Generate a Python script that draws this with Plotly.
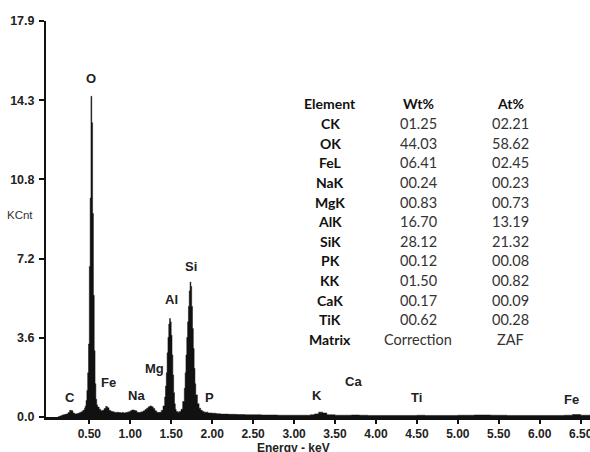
import plotly.graph_objects as go

# Spectrum (energy in keV, counts in KCnt)
energy = [0.12, 0.14, 0.16, 0.18, 0.20, 0.22, 0.24, 0.26, 0.28, 0.30, 0.32, 0.34, 0.36, 0.38, 0.40,
          0.42, 0.44, 0.45, 0.46, 0.47, 0.48, 0.49, 0.50, 0.51, 0.52, 0.53, 0.54, 0.55, 0.56, 0.57,
          0.58, 0.59, 0.60, 0.62, 0.64, 0.66, 0.68, 0.70, 0.72, 0.74, 0.76, 0.78, 0.80, 0.82, 0.84,
          0.86, 0.88, 0.90, 0.92, 0.94, 0.96, 0.98, 1.00, 1.02, 1.04, 1.06, 1.08, 1.10, 1.12, 1.14,
          1.16, 1.18, 1.20, 1.22, 1.24, 1.26, 1.28, 1.30, 1.32, 1.34, 1.36, 1.38, 1.40, 1.42, 1.43,
          1.44, 1.45, 1.46, 1.47, 1.48, 1.49, 1.50, 1.51, 1.52, 1.53, 1.54, 1.55, 1.56, 1.58, 1.60,
          1.62, 1.64, 1.66, 1.67, 1.68, 1.69, 1.70, 1.71, 1.72, 1.73, 1.74, 1.75, 1.76, 1.77, 1.78,
          1.79, 1.80, 1.82, 1.84, 1.86, 1.88, 1.90, 1.95, 2.00, 2.05, 2.10, 2.20, 2.30, 2.40, 2.50,
          2.60, 2.70, 2.80, 2.90, 3.00, 3.10, 3.20, 3.25, 3.30, 3.35, 3.40, 3.50, 3.60, 3.70, 3.80,
          3.90, 4.00, 4.20, 4.40, 4.50, 4.60, 4.80, 5.00, 5.20, 5.40, 5.60, 5.80, 6.00, 6.20, 6.30,
          6.40, 6.50, 6.62]
counts = [0.02, 0.05, 0.08, 0.10, 0.12, 0.14, 0.20, 0.30, 0.28, 0.18, 0.14, 0.15, 0.17, 0.20, 0.24,
          0.30, 0.40, 0.50, 0.75, 1.20, 2.00, 3.30, 6.80, 9.90, 14.50, 13.30, 9.20, 5.50, 3.00, 1.50,
          0.80, 0.55, 0.45, 0.35, 0.28, 0.30, 0.38, 0.48, 0.42, 0.30, 0.26, 0.24, 0.22, 0.20, 0.22,
          0.20, 0.19, 0.20, 0.18, 0.20, 0.22, 0.24, 0.28, 0.32, 0.30, 0.28, 0.22, 0.20, 0.22, 0.24,
          0.28, 0.34, 0.40, 0.46, 0.50, 0.46, 0.38, 0.28, 0.22, 0.20, 0.22, 0.30, 0.50, 0.90, 1.40,
          2.00, 2.90, 3.60, 4.20, 4.45, 4.30, 3.70, 2.80, 1.90, 1.10, 0.60, 0.35, 0.25, 0.22, 0.25,
          0.35, 0.70, 1.30, 2.00, 2.80, 3.60, 4.30, 5.00, 5.70, 6.10, 5.90, 5.00, 4.00, 3.10, 2.20,
          1.50, 1.00, 0.60, 0.40, 0.30, 0.25, 0.22, 0.18, 0.17, 0.15, 0.13, 0.12, 0.11, 0.10, 0.10,
          0.09, 0.09, 0.08, 0.08, 0.08, 0.08, 0.10, 0.14, 0.22, 0.18, 0.10, 0.08, 0.08, 0.09, 0.08,
          0.07, 0.07, 0.07, 0.07, 0.08, 0.07, 0.07, 0.08, 0.09, 0.08, 0.07, 0.07, 0.07, 0.07, 0.08,
          0.11, 0.08, 0.05]

# Peak labels
peak_labels = ["O", "Si", "Al", "Mg", "Fe", "Na", "C", "P", "K", "Ca", "Ti", "Fe"]
peak_x = [0.52, 1.74, 1.50, 1.30, 0.73, 1.07, 0.26, 1.97, 3.28, 3.72, 4.50, 6.39]
peak_y = [15.3, 6.8, 5.3, 2.2, 1.54, 0.95, 0.86, 0.9, 0.95, 1.6, 0.86, 0.77]

# Axis ticks
x_ticks = [0.5, 1.0, 1.5, 2.0, 2.5, 3.0, 3.5, 4.0, 4.5, 5.0, 5.5, 6.0, 6.5]
x_tick_text = ["0.50", "1.00", "1.50", "2.00", "2.50", "3.00", "3.50", "4.00", "4.50",
               "5.00", "5.50", "6.00", "6.50"]
y_ticks = [0.0, 3.58, 7.16, 10.74, 14.32, 17.9]
y_tick_text = ["0.0", "3.6", "7.2", "10.8", "14.3", "17.9"]

# Composition table
elements = ["CK", "OK", "FeL", "NaK", "MgK", "AlK", "SiK", "PK", "KK", "CaK", "TiK", "Matrix"]
wt_pct = ["01.25", "44.03", "06.41", "00.24", "00.83", "16.70", "28.12", "00.12", "01.50",
          "00.17", "00.62", "Correction"]
at_pct = ["02.21", "58.62", "02.45", "00.23", "00.73", "13.19", "21.32", "00.08", "00.82",
          "00.09", "00.28", "ZAF"]
headers = ["Element", "Wt%", "At%"]

W, H = 590, 452
L, R, T, B = 46, 0, 21, 35

fig = go.Figure()
fig.add_trace(go.Scatter(
    x=energy, y=counts, mode="lines", line=dict(shape="hv", color="#111111", width=0.5),
    fill="tozeroy", fillcolor="#111111", hoverinfo="skip", showlegend=False))

label_font = dict(family="Liberation Sans", size=13, color="#222222", weight="bold")
for t, x, y in zip(peak_labels, peak_x, peak_y):
    fig.add_annotation(x=x, y=y, text=t, showarrow=False, font=label_font,
                       xanchor="center", yanchor="middle")

# table annotations (paper coords from pixel positions)
col_px = [330, 418, 510]
row0_px, row_step = 104, 19.6


def px_to_paper(px, py):
    return (px - L) / (W - L - R), 1 - (py - T) / (H - T - B)


tfont_b = dict(family="Lato", size=14, color="#111111", weight="bold")
tfont_n = dict(family="Lato", size=14.5, color="#333333")
for j, h in enumerate(headers):
    xp, yp = px_to_paper(col_px[j], row0_px)
    fig.add_annotation(xref="paper", yref="paper", x=xp, y=yp, text=h, showarrow=False,
                       font=tfont_b, xanchor="center", yanchor="middle")
for i in range(len(elements)):
    py = row0_px + row_step * (i + 1)
    for j, val in enumerate([elements[i], wt_pct[i], at_pct[i]]):
        xp, yp = px_to_paper(col_px[j], py)
        fig.add_annotation(xref="paper", yref="paper", x=xp, y=yp, text=val, showarrow=False,
                           font=tfont_b if j == 0 else tfont_n, xanchor="center", yanchor="middle")

# y-axis title "KCnt"
xp, yp = px_to_paper(20, 215)
fig.add_annotation(xref="paper", yref="paper", x=xp, y=yp, text="KCnt", showarrow=False,
                   font=dict(family="Liberation Sans", size=11.5, color="#333333"),
                   xanchor="center", yanchor="middle")
# x-axis title
xp, yp = px_to_paper(293, 447.5)
fig.add_annotation(xref="paper", yref="paper", x=xp, y=yp, text="Energy - keV", showarrow=False,
                   font=dict(family="Liberation Sans", size=12, color="#222222", weight="bold"),
                   xanchor="center", yanchor="middle")

tick_font = dict(family="Liberation Sans", size=12, color="#222222", weight="bold")
fig.update_layout(
    width=W, height=H, margin=dict(l=L, r=R, t=T, b=B, autoexpand=False),
    paper_bgcolor="white", plot_bgcolor="white", showlegend=False,
    xaxis=dict(range=[-0.029, 6.614], tickvals=x_ticks, ticktext=x_tick_text, automargin=False,
               showgrid=False, zeroline=False, showline=True, linecolor="#111111", linewidth=2.5,
               ticks="outside", ticklen=4, tickwidth=1.5, tickcolor="#111111",
               ticklabelstandoff=0, ticklabeloverflow="allow", tickfont=tick_font),
    yaxis=dict(range=[0, 17.9], tickvals=y_ticks, ticktext=y_tick_text, automargin=False,
               showgrid=False, zeroline=False, showline=True, linecolor="#111111", linewidth=2,
               ticks="outside", ticklen=5, tickwidth=1.5, tickcolor="#111111",
               ticklabelstandoff=2, ticklabeloverflow="allow",
               tickfont=dict(family="Liberation Sans", size=12.5, color="#222222", weight="bold")),
)

fig.write_html("out.html", config={"displayModeBar": False},
               post_script="document.body.style.margin='0';document.body.style.overflow='hidden';")
